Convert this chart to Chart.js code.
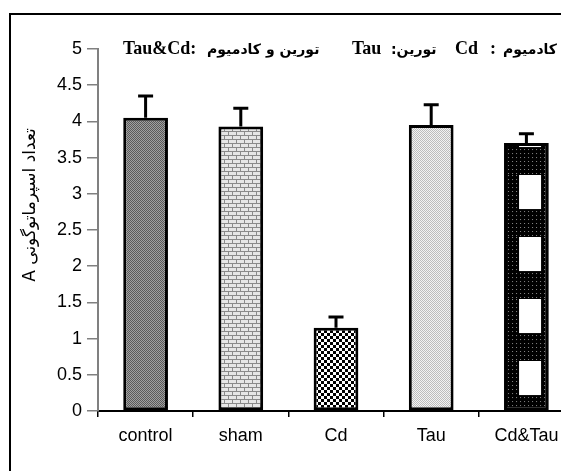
<!DOCTYPE html>
<html>
<head>
  <meta charset="utf-8" />
  <title>Spermatogonia A</title>
  <style>
    html, body {
      margin: 0;
      padding: 0;
      background: #ffffff;
      overflow: hidden;
    }
    #frame {
      position: absolute;
      left: 9px;
      top: 13px;
      width: 700px;
      height: 600px;
      border-left: 2px solid #000000;
      border-top: 2px solid #000000;
    }
    #chart {
      position: absolute;
      left: 0;
      top: 0;
    }
  </style>
</head>
<body>
  <div id="frame"></div>
  <canvas id="chart" width="600" height="471"></canvas>
  <script src="https://cdn.jsdelivr.net/npm/chart.js@4/dist/chart.umd.min.js"></script>
  <script>
    // data
    var categories = ['control', 'sham', 'Cd', 'Tau', 'Cd&Tau'];
    var means = [4.05, 3.93, 1.15, 3.95, 3.70];
    var errors = [0.30, 0.25, 0.15, 0.28, 0.13];
    var yTitle = 'تعداد اسپرماتوگونی A';

    function makePattern(w, h, draw) {
      var c = document.createElement('canvas');
      c.width = w;
      c.height = h;
      var g = c.getContext('2d');
      draw(g);
      return document.getElementById('chart').getContext('2d').createPattern(c, 'repeat');
    }

    var pControl = makePattern(2, 2, function(g) {
      g.fillStyle = '#a0a0a0'; g.fillRect(0, 0, 2, 2);
      g.fillStyle = '#5a5a5a'; g.fillRect(0, 0, 1, 1); g.fillRect(1, 1, 1, 1);
    });
    var pSham = makePattern(8, 8, function(g) {
      g.fillStyle = '#e6e6e6'; g.fillRect(0, 0, 8, 8);
      g.fillStyle = '#8a8a8a';
      g.fillRect(0, 3, 8, 1); g.fillRect(0, 7, 8, 1);
      g.fillRect(0, 0, 1, 3); g.fillRect(4, 4, 1, 3);
    });
    var pCd = makePattern(6, 6, function(g) {
      g.fillStyle = '#ffffff'; g.fillRect(0, 0, 6, 6);
      g.fillStyle = '#000000'; g.fillRect(0, 0, 3, 3); g.fillRect(3, 3, 3, 3);
    });
    var pTau = makePattern(2, 2, function(g) {
      g.fillStyle = '#f2f2f2'; g.fillRect(0, 0, 2, 2);
      g.fillStyle = '#bcbcbc'; g.fillRect(0, 0, 1, 1); g.fillRect(1, 1, 1, 1);
    });
    var pMix = makePattern(200, 62, function(g) {
      g.fillStyle = '#000000'; g.fillRect(0, 0, 200, 62);
      g.fillStyle = '#8a8a8a';
      for (var x = 0; x < 200; x += 4) {
        for (var y = 0; y < 62; y += 4) g.fillRect(x, y, 1, 1);
      }
      g.fillStyle = '#ffffff'; g.fillRect(15, 0, 22, 34);
    });

    var errorBars = {
      id: 'errorBars',
      beforeDatasetsDraw: function(chart) {
        var bar = chart.getDatasetMeta(0).data[4];
        var base = chart.scales.y.getPixelForValue(0);
        pMix.setTransform(new DOMMatrix([1, 0, 0, 1, bar.x - bar.width / 2, base - 50]));
      },
      afterDatasetsDraw: function(chart) {
        var ctx = chart.ctx;
        var y = chart.scales.y;
        ctx.save();
        ctx.strokeStyle = '#000000';
        ctx.lineWidth = 3;
        chart.getDatasetMeta(0).data.forEach(function(bar, i) {
          var top = y.getPixelForValue(means[i] + errors[i]);
          ctx.beginPath();
          ctx.moveTo(bar.x, bar.y);
          ctx.lineTo(bar.x, top);
          ctx.moveTo(bar.x - 7.5, top);
          ctx.lineTo(bar.x + 7.5, top);
          ctx.stroke();
        });
        ctx.restore();
      }
    };

    var labels = {
      id: 'labels',
      afterDraw: function(chart) {
        var ctx = chart.ctx;
        ctx.save();
        ctx.fillStyle = '#000000';
        ctx.textBaseline = 'alphabetic';
        var latin = 'bold 18px "Liberation Serif"';
        var farsi = 'bold 14px "DejaVu Sans"';
        var parts = [
          ['Tau&Cd:', latin, 123, 'ltr'],
          ['تورین و کادمیوم', farsi, 207, 'rtl'],
          ['Tau', latin, 352, 'ltr'],
          ['تورین:', farsi, 391, 'rtl'],
          ['Cd', latin, 455, 'ltr'],
          [':', latin, 490, 'ltr'],
          ['کادمیوم', farsi, 503, 'rtl']
        ];
        parts.forEach(function(p) {
          ctx.font = p[1];
          ctx.direction = p[3];
          ctx.textAlign = 'left';
          ctx.fillText(p[0], p[2], 54);
        });

        ctx.translate(31, 205);
        ctx.rotate(-Math.PI / 2);
        ctx.font = '17px "DejaVu Sans"';
        ctx.direction = 'rtl';
        ctx.textAlign = 'center';
        ctx.textBaseline = 'middle';
        ctx.fillText(yTitle, 0, 0);
        ctx.restore();
      }
    };

    new Chart(document.getElementById('chart'), {
      type: 'bar',
      data: {
        labels: categories,
        datasets: [{
          data: means,
          backgroundColor: [pControl, pSham, pCd, pTau, pMix],
          borderColor: '#000000',
          borderWidth: 3,
          borderSkipped: false,
          categoryPercentage: 1,
          barPercentage: 0.47
        }]
      },
      options: {
        responsive: false,
        animation: false,
        devicePixelRatio: 1,
        layout: { padding: { top: 49, right: 26, left: 0, bottom: 0 } },
        plugins: {
          legend: { display: false },
          tooltip: { enabled: false }
        },
        scales: {
          x: {
            afterFit: function(s) { s.height = 60; },
            grid: { drawOnChartArea: false, color: '#000000', tickLength: 6, lineWidth: 1.5 },
            border: { color: '#000000', width: 2 },
            ticks: { color: '#000000', font: { family: 'Liberation Sans', size: 18 }, padding: 8 }
          },
          y: {
            min: 0,
            max: 5,
            afterFit: function(s) { s.width = 98; },
            grid: { drawOnChartArea: false, color: '#808080', tickLength: 11, lineWidth: 1.5 },
            border: { color: '#808080', width: 2 },
            ticks: {
              stepSize: 0.5,
              color: '#000000',
              font: { family: 'Liberation Sans', size: 18 },
              padding: 5,
              callback: function(v) { return String(v); }
            }
          }
        }
      },
      plugins: [errorBars, labels]
    });
  </script>
</body>
</html>
